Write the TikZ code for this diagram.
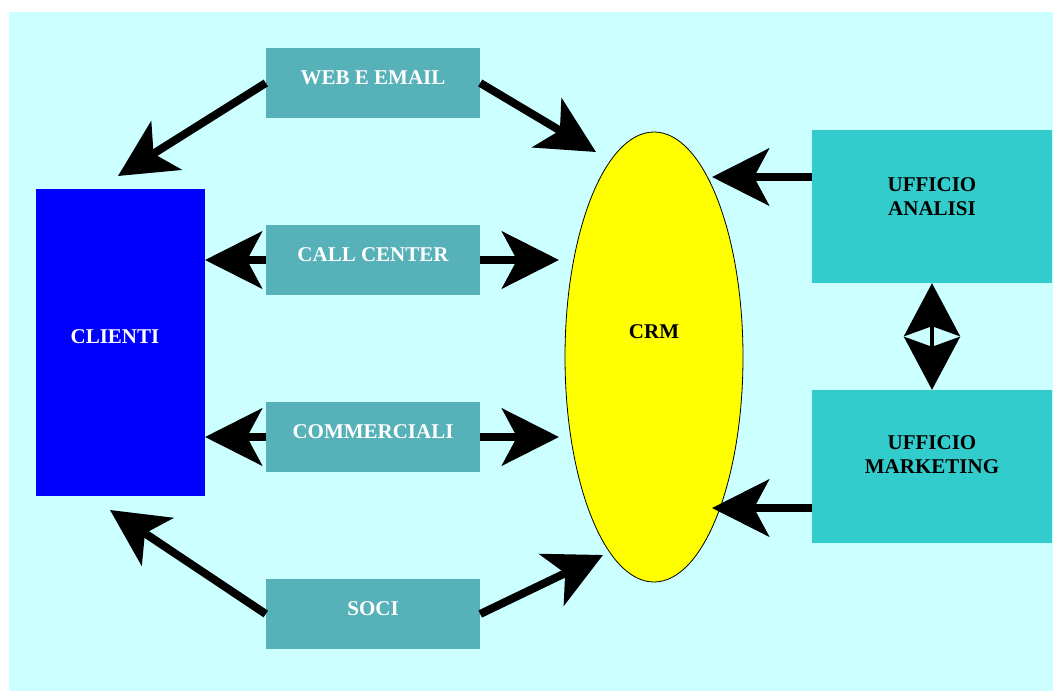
\documentclass[tikz,border=0pt]{standalone}
\usepackage{fontspec}
\setmainfont{Liberation Serif}
\usetikzlibrary{arrows.meta,shapes.geometric}
\definecolor{bg}{HTML}{CCFFFF}
\definecolor{chanc}{HTML}{57B1B8}
\definecolor{officec}{HTML}{33CCCC}
\definecolor{ylw}{RGB}{255,255,0}
\definecolor{blu}{RGB}{0,0,255}
\tikzset{
  chan/.style={fill=chanc, draw=none, inner sep=0pt, minimum width=214pt, minimum height=70pt},
  office/.style={fill=officec, draw=none, inner sep=0pt, minimum width=240pt, minimum height=153pt},
  wtxt/.style={text=white, font=\bfseries\fontsize{21}{24}\selectfont, inner sep=0pt},
  btxt/.style={text=black, font=\bfseries\fontsize{21}{24}\selectfont, inner sep=0pt, align=center},
  bigarrow/.style={line width=8pt, -{Stealth[length=57pt,width=57pt,inset=15pt]}},
  dblarrow/.style={line width=4pt, {Stealth[length=53pt,width=56pt,inset=10pt]}-{Stealth[length=53pt,width=56pt,inset=10pt]}}
}
\begin{document}
\begin{tikzpicture}[x=1pt,y=-1pt]
\useasboundingbox (0,0) rectangle (1053,691);
\fill[bg] (9,12) rectangle (1053,691);

% clients
\node[fill=blu, draw=none, inner sep=0pt, minimum width=169pt, minimum height=307pt] (clienti) at (120.5,342.5) {};
\node[wtxt] (clientiT) at (115,337) {CLIENTI};

% channels
\node[chan] (web) at (373,83) {};
\node[wtxt] (webT) at (373,78) {WEB E EMAIL};
\node[chan] (call) at (373,260) {};
\node[wtxt] (callT) at (373,255) {CALL CENTER};
\node[chan] (comm) at (373,437) {};
\node[wtxt] (commT) at (373,432) {COMMERCIALI};
\node[chan] (soci) at (373,614) {};
\node[wtxt] (sociT) at (373,609) {SOCI};

% CRM
\node[ellipse, draw=black, line width=0.8pt, fill=ylw, inner sep=0pt, minimum width=178pt, minimum height=450pt] (crm) at (654,357) {};
\node[btxt] (crmT) at (654,332) {CRM};

% offices
\node[office] (analisi) at (932,206.5) {};
\node[btxt] (analisiT) at (932,197) {UFFICIO\\ANALISI};
\node[office] (mkt) at (932,466.5) {};
\node[btxt] (mktT) at (932,455) {UFFICIO\\MARKETING};

% arrow tips
\coordinate (t1) at (118,176);
\coordinate (t2) at (596,152);
\coordinate (t3) at (205,260);
\coordinate (t4) at (559,260);
\coordinate (t5) at (205,437);
\coordinate (t6) at (559,437);
\coordinate (t7) at (110,510);
\coordinate (t8) at (603,555);
\coordinate (a1) at (812,177);
\coordinate (t9) at (712,177);
\coordinate (a2) at (812,508);
\coordinate (t10) at (712,508);

\draw[bigarrow] (web.west) -- (t1);
\draw[bigarrow] (web.east) -- (t2);
\draw[bigarrow] (call.west) -- (t3);
\draw[bigarrow] (call.east) -- (t4);
\draw[bigarrow] (comm.west) -- (t5);
\draw[bigarrow] (comm.east) -- (t6);
\draw[bigarrow] (soci.west) -- (t7);
\draw[bigarrow] (soci.east) -- (t8);
\draw[bigarrow] (a1) -- (t9);
\draw[bigarrow] (a2) -- (t10);
\draw[dblarrow] (analisi.south) -- (mkt.north);
\end{tikzpicture}
\end{document}
